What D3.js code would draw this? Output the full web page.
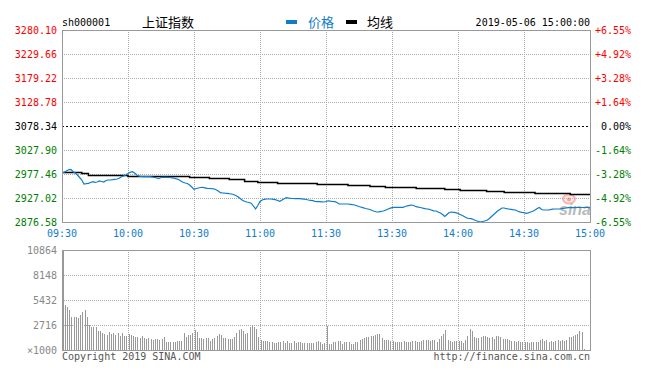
<!DOCTYPE html>
<html>
<head>
<meta charset="utf-8">
<script src="https://cdn.jsdelivr.net/npm/d3@7/dist/d3.min.js"></script>
<style>
body { margin: 0; background: #fff; }
text { font-family: 'DejaVu Sans Mono', monospace; font-size: 10px; }
.cjk { font-family: 'Noto Sans CJK SC', sans-serif; font-size: 13px; }
</style>
</head>
<body>
<div id="chart"></div>
<script>
// sh000001, 2019-05-06, one value per minute (09:30-11:30, 13:01-15:00)
var symbol = 'sh000001';
var title = '上证指数';
var stamp = '2019-05-06 15:00:00';
var prevClose = 3078.34;

var timeLabels = ['09:30', '10:00', '10:30', '11:00', '11:30', '13:30', '14:00', '14:30', '15:00'];
var timeIndex = [0, 30, 60, 90, 120, 150, 180, 210, 240];
var priceTicks = [3280.10, 3229.66, 3179.22, 3128.78, 3078.34, 3027.90, 2977.46, 2927.02, 2876.58];
var pctTicks = ['+6.55%', '+4.92%', '+3.28%', '+1.64%', '0.00%', '-1.64%', '-3.28%', '-4.92%', '-6.55%'];
var volTicks = [10864, 8148, 5432, 2716];

var prices = [
	2978.93, 2981.03, 2983.76, 2986.29, 2986.92, 2982.71, 2979.56, 2975.36, 2970.10, 2964.85,
	2956.44, 2957.07, 2957.91, 2959.59, 2961.28, 2960.01, 2960.64, 2962.75, 2961.70, 2960.64,
	2963.80, 2964.85, 2964.85, 2965.48, 2966.32, 2966.95, 2968.42, 2971.57, 2973.25, 2975.36,
	2978.51, 2981.03, 2982.29, 2979.56, 2975.36, 2972.83, 2972.20, 2971.78, 2971.78, 2971.78,
	2971.78, 2971.15, 2970.52, 2969.05, 2967.58, 2970.10, 2970.52, 2970.52, 2970.52, 2970.10,
	2969.47, 2968.63, 2967.37, 2965.90, 2962.75, 2960.01, 2958.54, 2957.49, 2954.34, 2950.14,
	2945.30, 2946.98, 2948.03, 2949.09, 2949.51, 2948.45, 2947.40, 2946.98, 2946.56, 2946.35,
	2944.46, 2941.73, 2938.16, 2937.53, 2937.11, 2936.90, 2936.06, 2935.42, 2934.37, 2932.27,
	2929.75, 2925.97, 2922.18, 2920.29, 2918.61, 2917.56, 2916.09, 2910.20, 2903.90, 2911.25,
	2919.66, 2922.81, 2924.29, 2924.92, 2924.92, 2924.92, 2924.29, 2923.44, 2921.76, 2920.08,
	2922.81, 2925.34, 2927.65, 2927.02, 2926.39, 2925.97, 2925.55, 2925.55, 2925.55, 2925.34,
	2924.50, 2923.87, 2922.81, 2922.18, 2921.34, 2920.08, 2919.24, 2919.24, 2919.03, 2918.61,
	2919.66, 2921.13, 2920.29, 2919.66, 2919.24, 2917.56, 2914.41, 2914.41, 2914.41, 2914.41,
	2914.41, 2913.78, 2912.94, 2912.31, 2910.83, 2909.15, 2907.68, 2906.42, 2904.95, 2903.90,
	2902.85, 2900.75, 2899.06, 2897.59, 2898.01, 2899.06, 2899.70, 2901.17, 2903.27, 2905.37,
	2906.63, 2907.47, 2907.47, 2907.47, 2907.47, 2907.47, 2909.15, 2910.62, 2911.68, 2912.31,
	2910.62, 2908.73, 2907.68, 2907.05, 2905.58, 2904.53, 2903.90, 2903.27, 2901.38, 2900.12,
	2899.70, 2897.59, 2895.49, 2892.34, 2888.14, 2892.34, 2896.54, 2897.59, 2896.96, 2896.12,
	2894.44, 2892.34, 2890.24, 2887.72, 2884.98, 2883.93, 2883.51, 2881.83, 2879.73, 2878.26,
	2876.58, 2877.21, 2878.68, 2879.73, 2882.88, 2887.09, 2891.29, 2895.49, 2899.70, 2902.85,
	2906.00, 2906.00, 2904.53, 2903.90, 2903.27, 2902.43, 2901.80, 2899.70, 2898.01, 2896.96,
	2896.12, 2894.86, 2895.91, 2897.59, 2899.28, 2901.80, 2904.95, 2907.05, 2902.85, 2901.80,
	2901.80, 2901.80, 2902.43, 2903.48, 2903.90, 2903.90, 2903.90, 2904.53, 2905.37, 2906.00,
	2906.63, 2906.63, 2906.63, 2906.84, 2907.05, 2907.05, 2907.05, 2907.05, 2907.05, 2907.05,
	2906.46
];

// average line: [minute index, value], holds until the next entry
var avgSteps = [
	[0, 2981.03], [9, 2978.93], [12, 2975.36], [30, 2973.25], [58, 2970.52], [67, 2968.42],
	[76, 2966.32], [83, 2963.38], [89, 2960.01], [98, 2957.91], [116, 2956.02], [130, 2954.34],
	[140, 2952.24], [147, 2949.51], [161, 2947.40], [174, 2945.30], [181, 2943.20], [193, 2941.10],
	[201, 2939.00], [215, 2936.90], [231, 2935.42], [240, 2935.42]
];

// volume, x1000
var volumes = [
	10864, 4890, 4670, 4350, 3590, 3590, 3590, 3480, 3800, 4130,
	4350, 3590, 2720, 2500, 2500, 2500, 2060, 2060, 1850, 1740,
	1630, 1960, 1740, 1850, 1630, 1850, 1520, 1850, 1520, 1520,
	1740, 1630, 1520, 1410, 1410, 1300, 1520, 1300, 1200, 1300,
	1200, 1090, 1200, 1200, 1090, 1200, 1410, 870, 870, 870,
	870, 870, 980, 980, 980, 1850, 1410, 1630, 1630, 1850,
	2170, 1960, 1300, 1300, 1200, 1300, 1300, 980, 1200, 1300,
	1520, 1740, 1630, 1300, 1300, 1200, 1200, 1200, 1410, 1850,
	2170, 2280, 2060, 1740, 1850, 2500, 2610, 2500, 2280, 1410,
	1090, 980, 980, 980, 870, 870, 760, 760, 870, 870,
	980, 760, 980, 760, 760, 980, 760, 870, 870, 760,
	760, 760, 760, 760, 760, 870, 980, 870, 650, 760,
	2610, 680, 680, 840, 840, 950, 1010, 680, 870, 870,
	870, 680, 680, 900, 900, 1120, 1200, 1300, 1410, 1380,
	1490, 1550, 1600, 1710, 1770, 1300, 1050, 1050, 1050, 950,
	950, 840, 840, 840, 840, 1010, 900, 900, 840, 950,
	950, 840, 840, 950, 1120, 1050, 1120, 950, 1120, 1050,
	840, 1200, 1490, 1770, 2210, 1120, 950, 840, 950, 950,
	1010, 950, 760, 1120, 1550, 2310, 2030, 1410, 1340, 1340,
	1410, 1490, 1490, 1410, 1300, 1410, 1230, 1490, 1490, 1380,
	1230, 1200, 1200, 1120, 1010, 1010, 900, 980, 870, 870,
	900, 840, 760, 840, 870, 840, 870, 1050, 1200, 980,
	1050, 900, 980, 900, 980, 1050, 980, 1120, 980, 1120,
	1380, 1410, 1490, 1600, 1770, 2030, 1920, 110, 0, 0,
	0
];

var W = 649, H = 370;
var left = 62, right = 590;
var pTop = 30, pBottom = 222;
var vTop = 250, vBottom = 350;
var blue = '#0f7ccc';
var gridColor = '#aaa';
var frameColor = '#999';

var svg = d3.select('#chart').append('svg')
	.attr('width', W)
	.attr('height', H);

svg.append('rect')
	.attr('width', W)
	.attr('height', H)
	.attr('fill', '#fff');

var x = d3.scaleLinear().domain([0, 240]).range([left, right]);
var y = d3.scaleLinear().domain([priceTicks[8], priceTicks[0]]).range([pBottom, pTop]);
var yv = d3.scaleLinear().domain([0, volTicks[0]]).range([vBottom, vTop]);

var px = function (v) { return Math.round(v) + 0.5; };

// header
svg.append('text').attr('x', left).attr('y', 26).text(symbol);
svg.append('text').attr('class', 'cjk').attr('x', 142).attr('y', 27).text(title);
svg.append('rect').attr('x', 286).attr('y', 20).attr('width', 11).attr('height', 4).attr('fill', blue);
svg.append('text').attr('class', 'cjk').attr('x', 308).attr('y', 27).attr('fill', blue).text('价格');
svg.append('rect').attr('x', 346).attr('y', 20).attr('width', 11).attr('height', 4).attr('fill', '#000');
svg.append('text').attr('class', 'cjk').attr('x', 367).attr('y', 27).text('均线');
svg.append('text').attr('x', right).attr('y', 26).attr('text-anchor', 'end').text(stamp);

// price grid
var grid = svg.append('g').attr('fill', 'none');
grid.selectAll('line.h')
	.data(priceTicks.slice(1, 8))
	.enter().append('line')
	.attr('x1', left).attr('x2', right)
	.attr('y1', function (d) { return px(y(d)); })
	.attr('y2', function (d) { return px(y(d)); })
	.attr('stroke', function (d) { return d === prevClose ? '#000' : gridColor; })
	.attr('stroke-dasharray', function (d) { return d === prevClose ? '2,2' : '1,1'; });

var vIdx = timeIndex.slice(1, 8);
grid.selectAll('line.v')
	.data(vIdx)
	.enter().append('line')
	.attr('x1', function (d) { return px(x(d)); })
	.attr('x2', function (d) { return px(x(d)); })
	.attr('y1', pTop).attr('y2', pBottom)
	.attr('stroke', gridColor)
	.attr('stroke-dasharray', '1,1');

// volume grid
grid.selectAll('line.vh')
	.data(volTicks.slice(1))
	.enter().append('line')
	.attr('x1', left).attr('x2', right)
	.attr('y1', function (d) { return px(yv(d)); })
	.attr('y2', function (d) { return px(yv(d)); })
	.attr('stroke', gridColor)
	.attr('stroke-dasharray', '1,1');

grid.selectAll('line.vv')
	.data(vIdx)
	.enter().append('line')
	.attr('x1', function (d) { return px(x(d)); })
	.attr('x2', function (d) { return px(x(d)); })
	.attr('y1', vTop).attr('y2', vBottom)
	.attr('stroke', gridColor)
	.attr('stroke-dasharray', '1,1');

// sina watermark
var logo = svg.append('g').attr('opacity', 0.5);
logo.append('ellipse').attr('cx', 569).attr('cy', 199).attr('rx', 6).attr('ry', 4.5)
	.attr('fill', '#fbd0d0').attr('stroke', '#f07070').attr('stroke-width', 2);
logo.append('circle').attr('cx', 569).attr('cy', 199.5).attr('r', 2).attr('fill', '#e05050');
logo.append('text')
	.attr('x', 559).attr('y', 215)
	.attr('fill', '#777')
	.style('font-family', 'Liberation Sans, sans-serif')
	.style('font-size', '16px')
	.style('font-weight', 'bold')
	.style('font-style', 'italic')
	.text('sina');

// volume bars
svg.append('g').selectAll('rect')
	.data(volumes)
	.enter().append('rect')
	.attr('x', function (d, i) { return Math.floor(x(i)) + 1; })
	.attr('width', 1)
	.attr('y', function (d) { return Math.round(yv(d)); })
	.attr('height', function (d) { return vBottom - Math.round(yv(d)); })
	.attr('fill', '#999');

// average line
svg.append('path')
	.datum(avgSteps)
	.attr('fill', 'none')
	.attr('stroke', '#000')
	.attr('stroke-width', 1.5)
	.attr('d', d3.line()
		.curve(d3.curveStepAfter)
		.x(function (d) { return x(d[0]); })
		.y(function (d) { return Math.round(y(d[1])) + 0.5; }));

// price line
svg.append('path')
	.datum(prices)
	.attr('fill', 'none')
	.attr('stroke', blue)
	.attr('stroke-width', 1.2)
	.attr('d', d3.line()
		.x(function (d, i) { return x(i); })
		.y(function (d) { return y(d); }));

// frames
svg.append('rect')
	.attr('x', left + 0.5).attr('y', pTop + 0.5)
	.attr('width', right - left).attr('height', pBottom - pTop)
	.attr('fill', 'none').attr('stroke', frameColor);
svg.append('rect')
	.attr('x', left + 0.5).attr('y', vTop + 0.5)
	.attr('width', right - left).attr('height', vBottom - vTop)
	.attr('fill', 'none').attr('stroke', frameColor);

// labels
var tickColor = function (d) {
	if (d > prevClose) return '#f00';
	if (d < prevClose) return '#008000';
	return '#000';
};

svg.append('g').selectAll('text')
	.data(priceTicks)
	.enter().append('text')
	.attr('x', 57)
	.attr('y', function (d) { return y(d) + 4; })
	.attr('text-anchor', 'end')
	.attr('fill', tickColor)
	.text(function (d) { return d.toFixed(2); });

svg.append('g').selectAll('text')
	.data(pctTicks)
	.enter().append('text')
	.attr('x', 631)
	.attr('y', function (d, i) { return y(priceTicks[i]) + 4; })
	.attr('text-anchor', 'end')
	.attr('fill', function (d, i) { return tickColor(priceTicks[i]); })
	.text(function (d) { return d; });

svg.append('g').selectAll('text')
	.data(timeLabels)
	.enter().append('text')
	.attr('x', function (d, i) { return x(timeIndex[i]); })
	.attr('y', 237)
	.attr('text-anchor', 'middle')
	.attr('fill', blue)
	.text(function (d) { return d; });

svg.append('g').selectAll('text')
	.data(volTicks)
	.enter().append('text')
	.attr('x', 57)
	.attr('y', function (d) { return yv(d) + 4; })
	.attr('text-anchor', 'end')
	.attr('fill', '#888')
	.text(function (d) { return d; });

svg.append('text')
	.attr('x', 57).attr('y', vBottom + 4)
	.attr('text-anchor', 'end')
	.attr('fill', '#888')
	.text('\u00d71000');

svg.append('text')
	.attr('x', left).attr('y', 360)
	.attr('fill', '#555')
	.text('Copyright 2019 SINA.COM');

svg.append('text')
	.attr('x', right).attr('y', 360)
	.attr('text-anchor', 'end')
	.attr('fill', '#555')
	.text('http://finance.sina.com.cn');
</script>
</body>
</html>
